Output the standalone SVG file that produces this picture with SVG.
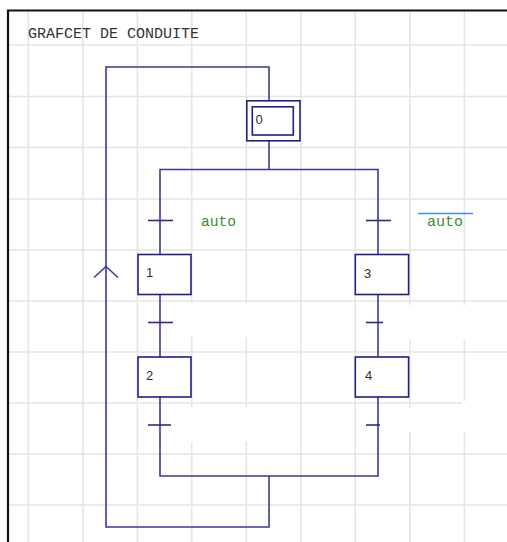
<svg xmlns="http://www.w3.org/2000/svg" width="507" height="542" viewBox="0 0 507 542">
<style>
.grid line{stroke:#e4e4e4;stroke-width:1.5}
.patch{fill:#ffffff}
.conn{fill:none;stroke:#3a3a9c;stroke-width:1.6}
.step{fill:#ffffff;stroke:#1e1e8e;stroke-width:1.6}
.tr{stroke:#2a2a94;stroke-width:1.6}
.lbl{font-family:"Liberation Sans",Arial,sans-serif;font-size:13px;fill:#3a2a2a}
.mono{font-family:"Liberation Mono","Courier New",monospace;font-size:14px}
.cond{fill:#3c8c2c}
</style>
<rect x="0" y="0" width="507" height="542" fill="#ffffff"/>
<g class="grid">
<line x1="28.3" y1="10" x2="28.3" y2="542"/>
<line x1="82.8" y1="10" x2="82.8" y2="542"/>
<line x1="137.3" y1="10" x2="137.3" y2="542"/>
<line x1="191.8" y1="10" x2="191.8" y2="542"/>
<line x1="246.3" y1="10" x2="246.3" y2="542"/>
<line x1="300.8" y1="10" x2="300.8" y2="542"/>
<line x1="355.3" y1="10" x2="355.3" y2="542"/>
<line x1="409.8" y1="10" x2="409.8" y2="542"/>
<line x1="464.3" y1="10" x2="464.3" y2="542"/>
<line x1="7" y1="45" x2="507" y2="45"/>
<line x1="7" y1="96.5" x2="507" y2="96.5"/>
<line x1="7" y1="147.5" x2="507" y2="147.5"/>
<line x1="7" y1="199" x2="507" y2="199"/>
<line x1="7" y1="250" x2="507" y2="250"/>
<line x1="7" y1="301" x2="507" y2="301"/>
<line x1="7" y1="352" x2="507" y2="352"/>
<line x1="7" y1="403" x2="507" y2="403"/>
<line x1="7" y1="454" x2="507" y2="454"/>
<line x1="7" y1="505" x2="507" y2="505"/>
</g>
<g>
<rect class="patch" x="189.5" y="303" width="5" height="34"/>
<rect class="patch" x="244" y="303" width="5" height="34"/>
<rect class="patch" x="189.5" y="407" width="5" height="35"/>
<rect class="patch" x="244" y="407" width="5" height="35"/>
<rect class="patch" x="407.5" y="305" width="5" height="35"/>
<rect class="patch" x="462" y="305" width="5" height="35"/>
<rect class="patch" x="407.5" y="408" width="5" height="24"/>
<rect class="patch" x="462" y="401" width="5" height="31"/>
<rect class="patch" x="466" y="401" width="41" height="4"/>
</g>
<path d="M8 542 V10.5 H507" fill="none" stroke="#111111" stroke-width="2.2"/>
<text x="28" y="38" class="mono" fill="#333333" textLength="171" lengthAdjust="spacingAndGlyphs">GRAFCET DE CONDUITE</text>
<g id="connectors">
<path class="conn" d="M269 100 V67 H106 V527 H269 V476"/>
<path class="conn" d="M94 277.5 L106 266.5 L118 277.5"/>
<path class="conn" d="M269 141 V169.5"/>
<path class="conn" d="M160 254 V169.5 H378 V254"/>
<path class="conn" d="M160 294 V357"/>
<path class="conn" d="M378 294 V357"/>
<path class="conn" d="M160 397 V476 H378 V397"/>
</g>
<g id="t1"><line class="tr" x1="148" y1="220.5" x2="173" y2="220.5"/><text x="201" y="226" class="mono cond" textLength="35" lengthAdjust="spacingAndGlyphs">auto</text></g>
<g id="t3"><line class="tr" x1="366" y1="220.5" x2="391" y2="220.5"/><line x1="418" y1="213.5" x2="473" y2="213.5" stroke="#3f8fe0" stroke-width="1.4"/><text x="427" y="226" class="mono cond" textLength="36" lengthAdjust="spacingAndGlyphs">auto</text></g>
<g id="t2"><line class="tr" x1="148" y1="322.5" x2="173" y2="322.5"/></g>
<g id="t4"><line class="tr" x1="366" y1="322.5" x2="383" y2="322.5"/></g>
<g id="t5"><line class="tr" x1="148" y1="425" x2="171" y2="425"/></g>
<g id="t6"><line class="tr" x1="366" y1="425" x2="380" y2="425"/></g>
<g id="step0"><rect class="step" x="246.8" y="100.8" width="53.2" height="40"/><rect class="step" x="252.3" y="106.8" width="41" height="28.2"/><text x="255.5" y="124" class="lbl">0</text></g>
<g id="step1"><rect class="step" x="138" y="254.5" width="53" height="40"/><text x="146" y="277" class="lbl">1</text></g>
<g id="step2"><rect class="step" x="138" y="357" width="53" height="40"/><text x="146" y="379.5" class="lbl">2</text></g>
<g id="step3"><rect class="step" x="355.3" y="254.5" width="53.3" height="40"/><text x="364" y="277.5" class="lbl">3</text></g>
<g id="step4"><rect class="step" x="355.3" y="357" width="53.3" height="40"/><text x="365" y="379.5" class="lbl">4</text></g>
</svg>
